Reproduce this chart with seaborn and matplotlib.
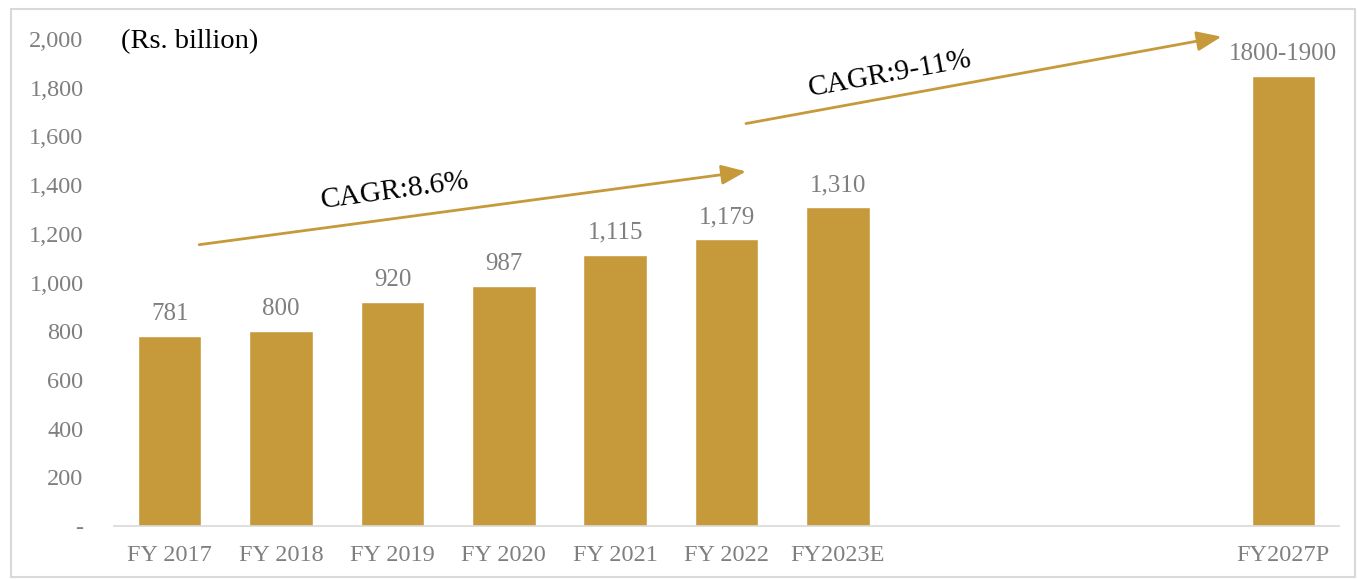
import matplotlib
matplotlib.use("Agg")
import matplotlib.pyplot as plt
import seaborn as sns
import pandas as pd

# data
years = ["FY 2017", "FY 2018", "FY 2019", "FY 2020", "FY 2021", "FY 2022", "FY2023E",
         "", " ", "  ", "FY2027P"]
values = [781, 800, 920, 987, 1115, 1179, 1310, None, None, None, 1850]
value_labels = ["781", "800", "920", "987", "1,115", "1,179", "1,310", "", "", "", "1800-1900"]
yticks = [0, 200, 400, 600, 800, 1000, 1200, 1400, 1600, 1800, 2000]
ytick_labels = ["-", "200", "400", "600", "800", "1,000", "1,200", "1,400", "1,600", "1,800", "2,000"]

gold = "#C69A3B"
grey = "#7F7F7F"

sns.set_style("white")
plt.rcParams["font.family"] = ["Liberation Serif", "DejaVu Serif"]

df = pd.DataFrame({"year": years, "value": values})

fig = plt.figure(figsize=(13.58, 5.79), dpi=100)
ax = fig.add_axes([0.084, 0.0915, 0.902, 0.841])

sns.barplot(data=df, x="year", y="value", order=years, color=gold,
            saturation=1, width=0.57, ax=ax)

for i, (v, lab) in enumerate(zip(values, value_labels)):
    if v is None:
        continue
    ax.text(i, v + 45, lab, ha="center", va="bottom", fontsize=18, color=grey)

ax.set_ylim(0, 2000)
ax.set_xlim(-0.5, 10.5)
ax.set_yticks(yticks)
ax.set_yticklabels(ytick_labels)
ax.tick_params(axis="y", length=0, labelsize=17.5, labelcolor=grey, pad=22)
ax.tick_params(axis="x", length=0, labelsize=17.5, labelcolor=grey, pad=14)
ax.set_xlabel("")
ax.set_ylabel("")
for s in ["top", "right", "left"]:
    ax.spines[s].set_visible(False)
ax.spines["bottom"].set_color("#D9D9D9")
ax.spines["bottom"].set_linewidth(1.2)

# CAGR arrows
head = "-|>,head_length=1.5,head_width=0.6"
ax.annotate("", xy=(5.2, 1458), xytext=(0.24, 1154),
            arrowprops=dict(arrowstyle=head, color=gold, lw=2), annotation_clip=False)
ax.annotate("", xy=(9.47, 2012), xytext=(5.15, 1651),
            arrowprops=dict(arrowstyle=head, color=gold, lw=2), annotation_clip=False)
ax.text(2.02, 1375, "CAGR:8.6%", fontsize=21, rotation=7.7, ha="center", va="center",
        rotation_mode="anchor", color="black")
ax.text(6.47, 1855, "CAGR:9-11%", fontsize=21, rotation=10.4, ha="center", va="center",
        rotation_mode="anchor", color="black", clip_on=False)

ax.text(-0.44, 1990, "(Rs. billion)", fontsize=20.5, ha="left", va="center", color="black")

# thin frame round the figure
fig.patches.append(plt.Rectangle((0.008, 0.003), 0.99, 0.982, transform=fig.transFigure,
                                 fill=False, edgecolor="#D9D9D9", lw=1.5))

fig.savefig("out.png", dpi=100)
